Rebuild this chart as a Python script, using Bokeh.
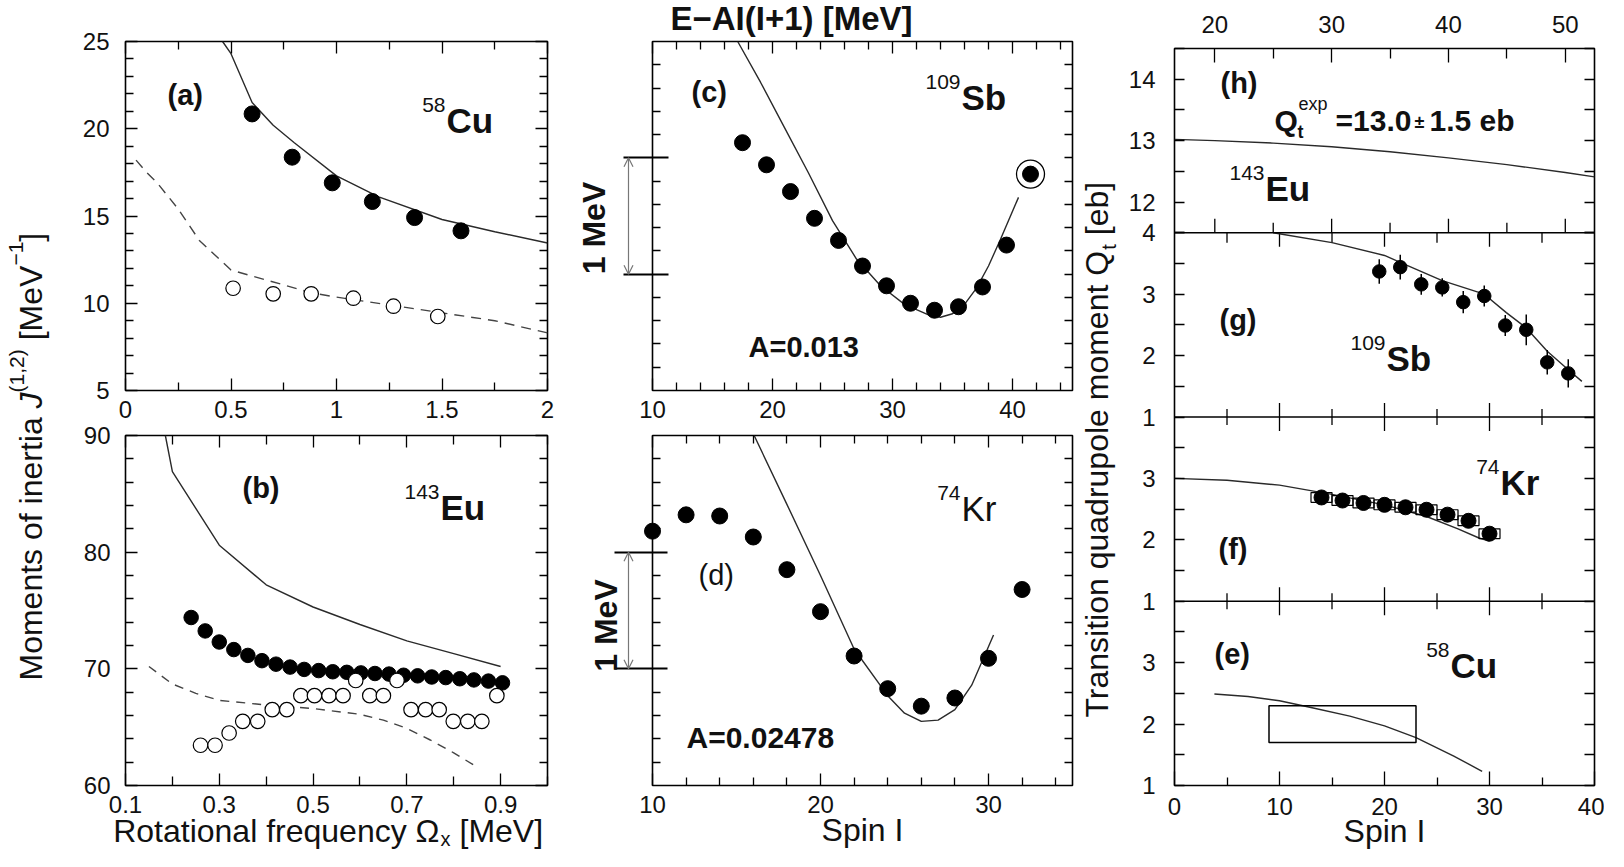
import math
from bokeh.plotting import figure
from bokeh.models import (Range1d, LinearAxis, FixedTicker, Label, Span, Arrow, OpenHead, GridBox)
from bokeh.layouts import row, column
from bokeh.embed import file_html
from bokeh.resources import INLINE

FONT = "Liberation Sans"
INK = "#111111"
CURVE = "#2a2a2a"

# ---------------- data: (a) 58Cu ----------------
a_fill_x = [0.60, 0.79, 0.98, 1.17, 1.37, 1.59]
a_fill_y = [20.85, 18.37, 16.9, 15.83, 14.91, 14.15]
a_open_x = [0.51, 0.70, 0.88, 1.08, 1.27, 1.48]
a_open_y = [10.86, 10.54, 10.54, 10.29, 9.83, 9.24]
a_solid_x = [0.46, 0.5, 0.6, 0.7, 0.8, 1.0, 1.2, 1.5, 1.75, 2.0]
a_solid_y = [25.0, 24.3, 21.5, 20.2, 19.2, 17.3, 16.1, 14.8, 14.1, 13.45]
a_dash_x = [0.05, 0.1, 0.15, 0.25, 0.35, 0.5, 0.75, 0.88, 1.0, 1.25, 1.5, 1.75, 2.0]
a_dash_y = [18.2, 17.5, 16.9, 15.4, 13.6, 11.9, 11.05, 10.6, 10.35, 9.9, 9.45, 9.0, 8.3]

# ---------------- data: (b) 143Eu ----------------
b_fill_x = [0.240, 0.270, 0.300, 0.331, 0.361, 0.391, 0.421, 0.451, 0.481, 0.512, 0.542, 0.572,
            0.602, 0.632, 0.662, 0.693, 0.723, 0.753, 0.783, 0.813, 0.843, 0.874, 0.904]
b_fill_y = [74.4, 73.25, 72.3, 71.65, 71.15, 70.7, 70.4, 70.15, 69.95, 69.85, 69.75, 69.7,
            69.65, 69.6, 69.55, 69.45, 69.4, 69.3, 69.25, 69.15, 69.05, 68.95, 68.8]
b_open_x = [0.260, 0.291, 0.321, 0.350, 0.382, 0.413, 0.444, 0.474, 0.503, 0.534, 0.564,
            0.591, 0.621, 0.650, 0.679, 0.709, 0.740, 0.769, 0.799, 0.830, 0.860, 0.892]
b_open_y = [63.45, 63.45, 64.5, 65.5, 65.5, 66.5, 66.5, 67.7, 67.7, 67.7, 67.7,
            69.0, 67.7, 67.7, 69.0, 66.5, 66.5, 66.5, 65.5, 65.5, 65.5, 67.7]
b_solid_x = [0.185, 0.2, 0.3, 0.4, 0.5, 0.6, 0.7, 0.8, 0.9]
b_solid_y = [90.0, 86.9, 80.6, 77.2, 75.3, 73.8, 72.4, 71.3, 70.2]
b_dash_x = [0.15, 0.2, 0.25, 0.3, 0.4, 0.5, 0.6, 0.65, 0.7, 0.75, 0.8, 0.845]
b_dash_y = [70.2, 68.7, 67.9, 67.3, 66.9, 66.6, 66.1, 65.6, 64.9, 63.9, 62.8, 61.7]

# ---------------- data: (c) 109Sb ----------------
c_x = [17.5, 19.5, 21.5, 23.5, 25.5, 27.5, 29.5, 31.5, 33.5, 35.5, 37.5, 39.5, 41.5]
c_y = [2.13, 1.94, 1.71, 1.48, 1.29, 1.07, 0.90, 0.75, 0.69, 0.72, 0.89, 1.25, 1.86]
c_circled = [41.5]
c_circled_y = [1.86]
c_line_x = [17.1, 19, 21, 23, 25, 27, 29, 31, 33, 34, 35, 36, 37, 38, 39, 40.5]
c_line_y = [3.0, 2.65, 2.26, 1.87, 1.46, 1.13, 0.90, 0.74, 0.65, 0.63, 0.66, 0.74, 0.88, 1.07, 1.30, 1.66]

# ---------------- data: (d) 74Kr ----------------
d_x = [10, 12, 14, 16, 18, 20, 22, 24, 26, 28, 30, 32]
d_y = [2.18, 2.32, 2.31, 2.13, 1.85, 1.49, 1.11, 0.83, 0.68, 0.75, 1.09, 1.68]
d_line_x = [16.05, 18, 20, 22, 24, 25, 26, 27, 28, 29, 30.3]
d_line_y = [3.0, 2.41, 1.80, 1.17, 0.77, 0.62, 0.55, 0.56, 0.65, 0.86, 1.29]

mev_marks = [1.0, 2.0]

# ---------------- data: right column ----------------
h_line_x = [16.55, 20, 25, 30, 35, 40, 45, 50, 52.5]
h_line_y = [13.02, 13.0, 12.96, 12.9, 12.82, 12.72, 12.61, 12.48, 12.41]

g_x = [19.5, 21.5, 23.5, 25.5, 27.5, 29.5, 31.5, 33.5, 35.5, 37.5]
g_y = [3.37, 3.44, 3.16, 3.11, 2.87, 2.97, 2.49, 2.42, 1.89, 1.71]
g_err = [0.2, 0.2, 0.17, 0.15, 0.18, 0.17, 0.17, 0.25, 0.2, 0.23]
g_line_x = [9.4, 15, 20, 21.6, 25.5, 29.5, 31.6, 33.5, 35.5, 37.5, 38.8]
g_line_y = [4.0, 3.84, 3.63, 3.51, 3.22, 3.0, 2.70, 2.45, 2.07, 1.77, 1.58]

f_x = [14, 16, 18, 20, 22, 24, 26, 28, 30]
f_y = [2.69, 2.64, 2.60, 2.57, 2.53, 2.49, 2.41, 2.31, 2.10]
f_xerr = [1.0, 1.0, 1.0, 1.0, 1.0, 1.0, 1.0, 1.0, 1.0]
f_yerr = [0.08, 0.08, 0.08, 0.08, 0.08, 0.08, 0.08, 0.08, 0.08]
f_line_x = [0, 5, 10, 15, 20, 24, 27, 29, 30]
f_line_y = [3.0, 2.97, 2.89, 2.74, 2.57, 2.38, 2.18, 2.03, 1.98]

e_line_x = [3.8, 7, 10, 13, 16.7, 20, 23, 26.6, 29.3]
e_line_y = [2.49, 2.45, 2.38, 2.27, 2.13, 1.97, 1.78, 1.48, 1.23]
e_box_spin = [9, 23]
e_box_q = [1.7, 2.3]

# ---------------- ticks ----------------
a_xticks = [0, 0.5, 1, 1.5, 2]; a_xlabels = ["0", "0.5", "1", "1.5", "2"]
a_xminor = [0.25, 0.75, 1.25, 1.75]
a_yticks = [5, 10, 15, 20, 25]; a_ylabels = ["5", "10", "15", "20", "25"]
a_yminor = [6, 7, 8, 9, 11, 12, 13, 14, 16, 17, 18, 19, 21, 22, 23, 24]
b_xticks = [0.1, 0.3, 0.5, 0.7, 0.9]; b_xlabels = ["0.1", "0.3", "0.5", "0.7", "0.9"]
b_xminor = [0.2, 0.4, 0.6, 0.8, 1.0]
b_yticks = [60, 70, 80, 90]; b_ylabels = ["60", "70", "80", "90"]
b_yminor = [62, 64, 66, 68, 72, 74, 76, 78, 82, 84, 86, 88]
c_xticks = [10, 20, 30, 40]; c_xlabels = ["10", "20", "30", "40"]
c_xminor = [12, 14, 16, 18, 22, 24, 26, 28, 32, 34, 36, 38, 42, 44]
d_xticks = [10, 20, 30]; d_xlabels = ["10", "20", "30"]
d_xminor = [12, 14, 16, 18, 22, 24, 26, 28, 32, 34]
cd_yticks = [0.2, 0.4, 0.6, 0.8, 1.0, 1.2, 1.4, 1.6, 1.8, 2.0, 2.2, 2.4, 2.6, 2.8]
cd_yminor = [0.2, 0.4, 0.6, 0.8, 1.2, 1.4, 1.6, 1.8, 2.2, 2.4, 2.6, 2.8]
r_xticks = [0, 10, 20, 30, 40]; r_xlabels = ["0", "10", "20", "30", "40"]
r_xminor = [5, 15, 25, 35]
top_xticks = [20, 30, 40, 50]; top_xlabels = ["20", "30", "40", "50"]
top_xminor = [25, 35, 45]
# per panel: (value at panel bottom, primary offset, labelled ticks, unlabelled ticks)
panels = {
    "h": (11.5, 9, [12, 13, 14], [11.5, 12.5, 13.5, 14.5]),
    "g": (1.0, 6, [1, 2, 3, 4], [1.5, 2.5, 3.5]),
    "f": (1.0, 3, [1, 2, 3], [1.5, 2.5, 3.5]),
    "e": (1.0, 0, [1, 2, 3], [1.5, 2.5, 3.5]),
}

# ---------------- layout geometry (page px) ----------------
FA = dict(L=133, R=555, T=49, B=398, x0=0, x1=2, y0=5, y1=25)
FB = dict(L=133, R=555, T=443, B=793, x0=0.1, x1=1.0, y0=60, y1=90)
FC = dict(L=660, R=1080, T=49, B=398, x0=10, x1=45, y0=0, y1=3)
FD = dict(L=660, R=1080, T=443, B=793, x0=10, x1=35, y0=0, y1=3)
FR = dict(L=1182, R=1602, T=56, B=793, x0=0, x1=40, y0=0, y1=12)
R_RIGHT_BORDER = 10
PAGE_L, PAGE_T, PAGE_B = 8, 8, 857
PAGE_R = FR["R"] + R_RIGHT_BORDER


def page_y(F, v):
    return F["B"] - (v - F["y0"]) * (F["B"] - F["T"]) / (F["y1"] - F["y0"])


def make_fig(F, bl, br, bt, bb):
    p = figure(frame_width=F["R"] - F["L"], frame_height=F["B"] - F["T"],
               x_range=Range1d(F["x0"], F["x1"]), y_range=Range1d(F["y0"], F["y1"]),
               x_axis_type=None, y_axis_type=None, toolbar_location=None,
               output_backend="svg", min_border_left=bl, min_border_right=br,
               min_border_top=bt, min_border_bottom=bb)
    p.outline_line_color = "black"
    p.outline_line_width = 1.6
    p.background_fill_color = "white"
    p.border_fill_color = "white"
    return p


def axis(p, side, ticks, minor, labels=None, tin=12, minin=8, tout=0, standoff=12, size=24,
         width=1.3, x_range_name="default", y_range_name="default"):
    ax = LinearAxis(ticker=FixedTicker(ticks=ticks, minor_ticks=minor),
                    x_range_name=x_range_name, y_range_name=y_range_name)
    ax.axis_line_color = None
    ax.major_tick_in = tin
    ax.major_tick_out = tout
    ax.minor_tick_in = minin
    ax.minor_tick_out = 0
    ax.major_tick_line_color = "black"
    ax.minor_tick_line_color = "black"
    ax.major_tick_line_width = width
    ax.minor_tick_line_width = 1.3
    if labels is None:
        ax.major_label_overrides = {t: "" for t in ticks}
        ax.major_label_text_color = None
        ax.major_label_text_font_size = "1px"
        ax.major_label_standoff = 0
    else:
        ax.major_label_overrides = {t: l for t, l in zip(ticks, labels)}
        ax.major_label_text_font = FONT
        ax.major_label_text_font_size = f"{size}px"
        ax.major_label_text_color = INK
        ax.major_label_standoff = standoff
    p.add_layout(ax, side)
    return ax


# ---------------- (a) ----------------
pA = make_fig(FA, FA["L"] - PAGE_L, 20, FA["T"] - PAGE_T, 42)
axis(pA, "below", a_xticks, a_xminor, a_xlabels, standoff=10)
axis(pA, "above", a_xticks, a_xminor)
axis(pA, "left", a_yticks, a_yminor, a_ylabels, standoff=16)
axis(pA, "right", a_yticks, a_yminor)
pA.line(a_solid_x, a_solid_y, line_color=CURVE, line_width=1.4)
pA.line(a_dash_x, a_dash_y, line_color="#444444", line_width=1.4, line_dash="10 7")
pA.scatter(a_fill_x, a_fill_y, size=16, marker="circle", fill_color="black", line_color="black")
pA.scatter(a_open_x, a_open_y, size=14.5, marker="circle", fill_color="white", line_color="black", line_width=1.2)

# ---------------- (b) ----------------
pB = make_fig(FB, FB["L"] - PAGE_L, 20, 3, 64)
axis(pB, "below", b_xticks, b_xminor, b_xlabels, tin=12, minin=9, standoff=10)
axis(pB, "above", b_xticks, b_xminor, tin=12, minin=9)
# the top label ("90") sits on the panel edge, so it is written in the overlay below
axis(pB, "left", b_yticks, b_yminor, b_ylabels[:-1] + [""], standoff=15)
axis(pB, "right", b_yticks, b_yminor)
pB.line(b_solid_x, b_solid_y, line_color=CURVE, line_width=1.4)
pB.line(b_dash_x, b_dash_y, line_color="#444444", line_width=1.4, line_dash="9 7")
pB.scatter(b_fill_x, b_fill_y, size=14.5, marker="circle", fill_color="black", line_color="black")
pB.scatter(b_open_x, b_open_y, size=14.5, marker="circle", fill_color="white", line_color="black", line_width=1.2)

# ---------------- (c) ----------------
pC = make_fig(FC, 85, 20, 41, 42)
axis(pC, "below", c_xticks, c_xminor, c_xlabels, standoff=10)
axis(pC, "above", c_xticks, c_xminor)
axis(pC, "left", mev_marks, cd_yminor, tin=16, minin=8, tout=29, width=2.2)
axis(pC, "right", cd_yticks, [], tin=8)
pC.line(c_line_x, c_line_y, line_color=CURVE, line_width=1.4)
pC.scatter(c_x, c_y, size=16, marker="circle", fill_color="black", line_color="black")
pC.scatter(c_circled, c_circled_y, size=28, marker="circle", fill_color=None, line_color="black", line_width=1.3)

# ---------------- (d) ----------------
pD = make_fig(FD, 85, 20, 3, 64)
axis(pD, "below", d_xticks, d_xminor, d_xlabels, standoff=10)
axis(pD, "above", d_xticks, d_xminor)
axis(pD, "left", mev_marks, cd_yminor, tin=15, minin=8, tout=38, width=2.2)
axis(pD, "right", cd_yticks, [], tin=8)
pD.line(d_line_x, d_line_y, line_color=CURVE, line_width=1.4)
pD.scatter(d_x, d_y, size=16, marker="circle", fill_color="black", line_color="black", level="overlay")

# ---------------- right column (h, g, f, e) ----------------
pR = make_fig(FR, 82, R_RIGHT_BORDER, 48, 64)
pR.extra_x_ranges = {"top": Range1d(16.55, 52.5)}
pR.extra_y_ranges = {k: Range1d(v[0] - v[1], v[0] - v[1] + 12) for k, v in panels.items()}
r_major, r_labels, r_minor = [], [], []
for k, (v0, off, lab, unl) in panels.items():
    for t in lab:
        r_major.append(off + (t - v0))
        r_labels.append(str(t))
    for t in unl:
        r_minor.append(off + (t - v0))
axis(pR, "left", r_major, r_minor, r_labels, tin=10, minin=10, standoff=19)
axis(pR, "right", r_major, r_minor, tin=10, minin=10)
axis(pR, "below", r_xticks, r_xminor, r_xlabels, tin=14, minin=8, standoff=12)
axis(pR, "above", top_xticks, top_xminor, top_xlabels, tin=14, minin=10, standoff=16,
     x_range_name="top")
for k, (v0, off, lab, unl) in panels.items():
    if off > 0:
        pR.add_layout(Span(location=off, dimension="width", line_color="black", line_width=1.6))


def rays(xs, y, length, angle, xr="default"):
    pR.ray(x=xs, y=[y] * len(xs), length=length, length_units="screen", angle=angle,
           line_color="black", line_width=1.3, x_range_name=xr)


up, down = math.pi / 2, -math.pi / 2
rays(top_xticks, 9, 14, up, "top")
rays(top_xminor, 9, 10, up, "top")
rays(r_xticks[1:-1], 9, 14, down)
rays(r_xminor, 9, 10, down)
for yb in (6, 3):
    for a in (up, down):
        rays(r_xticks[1:-1], yb, 14, a)
        rays(r_xminor, yb, 8, a)

pR.line(h_line_x, h_line_y, line_color=CURVE, line_width=1.4, x_range_name="top", y_range_name="h")
pR.line(g_line_x, g_line_y, line_color=CURVE, line_width=1.4, y_range_name="g")
pR.segment(x0=g_x, y0=[y - e for y, e in zip(g_y, g_err)], x1=g_x,
           y1=[y + e for y, e in zip(g_y, g_err)], line_color="black", line_width=1.5, y_range_name="g")
pR.scatter(g_x, g_y, size=13.5, marker="circle", fill_color="black", line_color="black", y_range_name="g")
pR.line(f_line_x, f_line_y, line_color=CURVE, line_width=1.4, y_range_name="f")
pR.quad(left=[x - e for x, e in zip(f_x, f_xerr)], right=[x + e for x, e in zip(f_x, f_xerr)],
        bottom=[y - e for y, e in zip(f_y, f_yerr)], top=[y + e for y, e in zip(f_y, f_yerr)],
        fill_color=None, line_color="black", line_width=1.2, y_range_name="f")
pR.scatter(f_x, f_y, size=15, marker="circle", fill_color="black", line_color="black", y_range_name="f")
pR.line(e_line_x, e_line_y, line_color=CURVE, line_width=1.4, y_range_name="e")
pR.quad(left=[e_box_spin[0]], right=[e_box_spin[1]], bottom=[e_box_q[0]], top=[e_box_q[1]],
        fill_color=None, line_color="black", line_width=1.5, y_range_name="e")

# ---------------- transparent overlay for all free text (page pixel coordinates) ----------------
OW, OH = PAGE_R - PAGE_L, PAGE_B - PAGE_T
ov = figure(frame_width=OW, frame_height=OH, x_range=Range1d(PAGE_L, PAGE_R), y_range=Range1d(0, OH),
            x_axis_type=None, y_axis_type=None, toolbar_location=None, output_backend="svg",
            min_border=0)
ov.outline_line_color = None
ov.background_fill_color = None
ov.border_fill_color = None

BASE_SHIFT = 0.35  # anchor correction (em) so that py is the visual baseline


def T(px, py, text, size, style="normal", align="left", angle=0.0):
    if angle == 0.0:
        x, y = px, py - BASE_SHIFT * size
    else:
        x, y = px - BASE_SHIFT * size, py
    ov.add_layout(Label(x=x, y=PAGE_B - y, text=text, text_font=FONT,
                        text_font_size=f"{size}px", text_font_style=style,
                        text_align=align, text_baseline="alphabetic", angle=angle,
                        text_color=INK))


def iso(px, py, mass, sym, style="bold", size=35, sup=21, rise=20):
    T(px, py, sym, size, style)
    T(px - 1, py - rise, mass, sup, "normal", align="right")


ang = math.pi / 2
# left y label
T(50, 688, "Moments of inertia", 32, angle=ang)
T(50, 415.9, "J", 32, "italic", angle=ang)
T(31, 399.9, "(1,2)", 21, angle=ang)
T(50, 347.8, "[MeV", 32, angle=ang)
T(31, 273.1, "\u22121", 21, angle=ang)
T(50, 249.2, "]", 32, angle=ang)
# top tick label of (b), written here so that it is not cut by the panel edge
T(FB["L"] - 15, page_y(FB, b_yticks[-1]) + 8.6, b_ylabels[-1], 24, align="right")
# right y label
T(1116, 725, "Transition quadrupole moment Q", 32, angle=ang)
T(1123, 257.2, "t", 20, angle=ang)
T(1116, 242.7, "[eb]", 32, angle=ang)
# x labels
T(447, 850, "Rotational frequency \u03a9", 32, align="right")
T(448, 853, "x", 20)
T(467, 850, "[MeV]", 32)
T(870, 849, "Spin I", 32, align="center")
T(1392, 850, "Spin I", 32, align="center")
T(799, 38, "E\u2212AI(I+1) [MeV]", 33, "bold", align="center")
# panel texts
T(175, 113, "(a)", 29, "bold")
iso(454, 140, "58", "Cu")
T(250, 506, "(b)", 29, "bold")
iso(448, 527, "143", "Eu")
T(699, 110, "(c)", 29, "bold")
iso(969, 117, "109", "Sb")
T(756, 365, "A=0.013", 29, "bold")
T(706, 593, "(d)", 29)
iso(969, 528, "74", "Kr", style="normal")
T(694, 755, "A=0.02478", 30, "bold")
T(1228, 101, "(h)", 29, "bold")
iso(1273, 208, "143", "Eu")
T(1282, 138, "Q", 30, "bold")
T(1305, 146, "t", 18, "bold")
T(1306, 118, "exp", 18)
T(1343, 138, "=13.0", 30, "bold")
T(1422, 136, "\u00b1", 18, "bold")
T(1437, 138, "1.5 eb", 30, "bold")
T(1227, 338, "(g)", 29, "bold")
iso(1394, 378, "109", "Sb")
T(1226, 567, "(f)", 29, "bold")
iso(1508, 502, "74", "Kr")
T(1222, 672, "(e)", 29, "bold")
iso(1458, 685, "58", "Cu")
# 1 MeV scale bars
T(613, 235.5, "1 MeV", 32, "bold", align="center", angle=ang)
T(625, 633, "1 MeV", 32, "bold", align="center", angle=ang)
for F in (FC, FD):
    ov.add_layout(Arrow(x_start=636, y_start=PAGE_B - page_y(F, mev_marks[0]),
                        x_end=636, y_end=PAGE_B - page_y(F, mev_marks[1]),
                        start=OpenHead(size=9, line_color="#777777", line_width=1.2),
                        end=OpenHead(size=9, line_color="#777777", line_width=1.2),
                        line_color="#777777", line_width=1.2))

main = row(column(pA, pB), column(pC, pD), pR)
root = GridBox(children=[(main, 0, 0), (ov, 0, 0)])
open("out.html", "w").write(file_html(root, INLINE))
